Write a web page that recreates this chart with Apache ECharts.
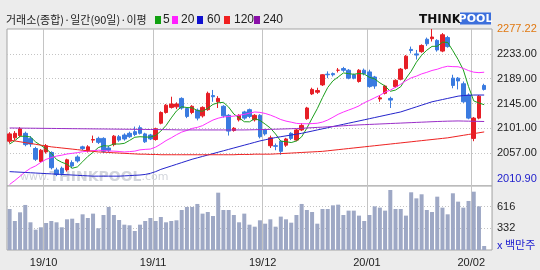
<!DOCTYPE html>
<html><head><meta charset="utf-8">
<script src="https://cdn.jsdelivr.net/npm/echarts@6/dist/echarts.min.js"></script>
<style>html,body{margin:0;padding:0;background:#ececec;}#c{width:540px;height:270px;}</style>
</head><body><div id="c"></div>
<script>
const dates = ['2019-09-20','2019-09-23','2019-09-24','2019-09-25','2019-09-26','2019-09-27','2019-09-30',
'2019-10-01','2019-10-02','2019-10-04','2019-10-07','2019-10-08','2019-10-10','2019-10-11','2019-10-14','2019-10-15','2019-10-16','2019-10-17','2019-10-18','2019-10-21','2019-10-22','2019-10-23','2019-10-24','2019-10-25','2019-10-28','2019-10-29','2019-10-30','2019-10-31',
'2019-11-01','2019-11-04','2019-11-05','2019-11-06','2019-11-07','2019-11-08','2019-11-11','2019-11-12','2019-11-13','2019-11-14','2019-11-15','2019-11-18','2019-11-19','2019-11-20','2019-11-21','2019-11-22','2019-11-25','2019-11-26','2019-11-27','2019-11-28','2019-11-29',
'2019-12-02','2019-12-03','2019-12-04','2019-12-05','2019-12-06','2019-12-09','2019-12-10','2019-12-11','2019-12-12','2019-12-13','2019-12-16','2019-12-17','2019-12-18','2019-12-19','2019-12-20','2019-12-23','2019-12-24','2019-12-26','2019-12-27','2019-12-30',
'2020-01-02','2020-01-03','2020-01-06','2020-01-07','2020-01-08','2020-01-09','2020-01-10','2020-01-13','2020-01-14','2020-01-15','2020-01-16','2020-01-17','2020-01-20','2020-01-21','2020-01-22','2020-01-23','2020-01-28','2020-01-29','2020-01-30','2020-01-31',
'2020-02-03','2020-02-04','2020-02-05'];

const open = [2078,2084,2088,2092,2083,2065,2042,2059,2058,2027,
 2030,2027,2040,2050,2068,2061,2080,2083,2083,2066,
 2072,2086,2089,2092,2095,2102,2091,2089,2081,2110,
 2129,2138,2139,2154,2136,2129,2133,2123,2134,2159,
 2148,2140,2124,2097,2116,2130,2134,2116,2124,2098,
 2070,2070,2078,2071,2092,2080,2098,2118,2162,2165,
 2178,2197,2198,2204,2207,2204,2196,2184,2204,2201,
 2192,2153,2163,2154,2175,2188,2207,2241,2233,2237,
 2259,2260,2257,2238,2262,2190,2190,2180,2160,2083,
 2119,2177];
const close = [2091,2092,2100,2072,2073,2046,2062,2070,2031,2019,
 2021,2045,2034,2043,2065,2068,2081,2076,2060,2062,
 2087,2080,2082,2086,2090,2092,2077,2082,2100,2129,
 2142,2144,2144,2137,2122,2140,2119,2138,2163,2157,
 2154,2123,2096,2101,2124,2119,2122,2124,2086,2091,
 2084,2069,2060,2082,2083,2098,2106,2137,2170,2168,
 2196,2196,2196,2204,2204,2190,2190,2204,2198,2175,
 2176,2155,2176,2151,2186,2206,2229,2239,2231,2248,
 2251,2263,2240,2267,2246,2177,2185,2148,2119,2119,
 2158,2170];
const low = [2074,2080,2085,2069,2068,2043,2040,2056,2028,2016,
 2017,2024,2030,2040,2062,2058,2075,2073,2057,2058,
 2069,2077,2079,2084,2087,2090,2075,2080,2079,2108,
 2127,2136,2135,2134,2119,2126,2115,2120,2132,2148,
 2137,2120,2088,2095,2113,2116,2119,2113,2083,2088,
 2066,2062,2054,2068,2080,2078,2096,2116,2160,2162,
 2176,2190,2193,2200,2201,2188,2188,2182,2195,2173,
 2171,2148,2161,2137,2173,2186,2205,2234,2223,2235,
 2247,2255,2237,2236,2244,2172,2170,2146,2117,2078,
 2117,2168];
const high = [2094,2096,2103,2095,2087,2068,2064,2073,2060,2031,
 2033,2047,2044,2053,2070,2071,2088,2086,2085,2070,
 2089,2089,2092,2095,2104,2106,2093,2091,2102,2131,
 2144,2157,2147,2156,2138,2142,2136,2140,2166,2169,
 2158,2142,2126,2103,2126,2132,2136,2126,2126,2100,
 2088,2074,2080,2084,2094,2100,2110,2139,2173,2173,
 2197,2202,2200,2208,2210,2206,2198,2206,2207,2205,
 2194,2160,2178,2157,2188,2208,2231,2246,2240,2250,
 2262,2277.22,2259,2270,2265,2196,2192,2184,2163,2121,
 2160,2180];
const volume = [583,427,540,636,410,314,345,401,427,410,
 345,449,457,401,514,466,523,332,505,610,
 505,440,379,371,297,379,427,466,427,479,
 410,427,436,570,610,610,649,523,544,492,
 796,570,570,505,410,523,379,353,436,392,
 449,353,484,449,405,505,649,570,544,392,
 583,583,631,640,505,562,562,497,427,505,
 618,601,562,831,583,583,497,801,722,775,
 570,544,744,601,514,788,679,601,688,809,
 618,101];
const ma5 = [2073,2079,2086.6,2087,2085.6,2076.6,2070.6,2064.6,2056.4,2045.6,
 2040.6,2037.2,2030,2032.4,2041.6,2051,2058.2,2066.6,2070,2069.4,
 2073.2,2073,2074.2,2079.4,2085,2086,2085.4,2085.4,2088.2,2096,
 2106,2119.4,2131.8,2139.2,2137.8,2137.4,2132.4,2131.2,2136.4,2143.4,
 2146.2,2147,2138.6,2126.2,2119.6,2112.6,2112.4,2118,2115,2108.4,
 2101.4,2090.8,2078,2077.2,2075.6,2078.4,2085.8,2101.2,2118.8,2135.8,
 2155.4,2173.4,2185.2,2192,2199.2,2198,2196.8,2198.4,2197.2,2191.4,
 2188.6,2181.6,2176,2166.6,2168.8,2174.8,2189.6,2202.2,2218.2,2230.6,
 2239.6,2246.4,2246.6,2253.8,2253.4,2238.6,2223,2204.6,2175,2149.6,
 2145.8,2142.8];
const ma20 = [2001.2,2008.2,2015.8,2023.6,2029.9,2034.2,2040.6,2045.8,2048.9,2051.6,
 2053.2,2055.3,2056.5,2057.7,2059.4,2060.3,2061.3,2062,2061.5,2060.6,
 2060.4,2059.8,2058.9,2059.6,2060.4,2062.7,2063.5,2064.1,2067.5,2073,
 2079.1,2084,2089.5,2094.2,2097.1,2100.7,2102.6,2105.7,2110.8,2115.6,
 2118.9,2121.1,2121.8,2122.5,2124.2,2125.6,2127.8,2129.9,2129.2,2127.3,
 2124.4,2120.7,2116.5,2113.7,2111.8,2109.7,2109,2109,2109.3,2109.9,
 2112,2115.6,2120.6,2125.8,2129.8,2133.3,2136.7,2140.7,2146.3,2150.5,
 2155.1,2159.4,2165.2,2168.7,2173.8,2179.2,2185.4,2190.5,2193.5,2197.5,
 2200.3,2203.6,2205.8,2209,2211.1,2210.4,2210.2,2207.4,2203.4,2200.6,
 2199.7,2200.5];
const ma60 = [2024,2023.5,2023,2022.5,2022,2021.5,2021,2020.5,2020,2019.5,
 2019,2018.5,2018,2017.5,2017,2016.5,2016,2016,2016,2016,
 2016,2016,2016.5,2017,2017.5,2018,2019,2021,2024,2028,
 2031,2034,2037,2040,2043,2046,2048.5,2051,2053.5,2056,
 2058.5,2061,2063.5,2066,2068.5,2071,2073.5,2076,2078.5,2080.5,
 2082.5,2084.5,2086,2087.5,2089,2090.5,2092,2094,2096,2098,
 2100,2102,2104,2106,2108,2110,2112,2114,2116,2118,
 2120,2122,2124,2126,2128,2130,2133,2136,2139,2142,
 2145,2148,2150,2152,2154,2156,2158,2159,2159.5,2160,
 2160,2160];
const ma120 = [2080,2078.5,2077,2075.5,2074,2072.5,2071,2069.5,2068,2067,
 2066,2065,2064,2063,2062,2061,2060,2059,2058.5,2058,
 2057.5,2057,2056.5,2056,2055.5,2055,2055,2054.5,2054.5,2054,
 2054,2054,2054,2054,2054,2054,2054,2054,2054,2054,
 2054,2054,2054,2054,2054.5,2054.5,2054.5,2055,2055,2055,
 2055,2055.5,2056,2056.5,2057,2057.5,2058,2058.5,2059,2059.5,
 2060,2061,2062,2063,2064,2065,2066,2067,2068,2069,
 2070,2071,2072,2073,2074,2075,2076,2077,2078,2079,
 2080,2081,2082,2083,2084,2085.5,2087,2088.5,2090,2091.5,
 2093,2094.5];
const ma240 = [2101.5,2101.4,2101.3,2101.2,2101.1,2101,2100.9,2100.8,2100.7,2100.6,
 2100.5,2100.4,2100.3,2100.2,2100.1,2100,2099.9,2099.8,2099.7,2099.6,
 2099.5,2099.4,2099.3,2099.2,2099.1,2099,2098.9,2098.8,2098.7,2098.6,
 2098.5,2098.4,2098.2,2098,2098,2098,2098,2098,2098,2098,
 2098,2098,2098,2098,2098,2098,2098.2,2098.4,2098.6,2098.8,
 2099,2099.3,2099.6,2099.9,2100.2,2100.5,2101,2101.5,2102,2102.5,
 2103,2103.6,2104.2,2104.8,2105.4,2106,2106.5,2107,2107.4,2107.8,
 2108.2,2108.6,2109,2109.4,2109.8,2110.2,2110.6,2111,2111.4,2111.8,
 2112.2,2112.6,2113,2113.3,2113.6,2113.8,2114,2113.8,2113.6,2113.4,
 2113.2,2113];

const priceTicks = [2010.90, 2057, 2101, 2145, 2189, 2233, 2277.22];
const priceGridValues = [2057, 2101, 2145, 2189, 2233];
const volTicks = [332, 616];
const monthLabels = ['19/10','19/11','19/12','20/01','20/02'];
const maNames = ['5','20','60','120','240'];
const maColors = ['#1d9f1d','#ff30ff','#2424cc','#ee2222','#9a2ec8'];
const maLegendColors = ['#10a010','#ff20ff','#1010d0','#f02020','#8a10a8'];

const monthIdx = [];
for (let i = 1; i < dates.length; i++) {
  if (dates[i].slice(0,7) !== dates[i-1].slice(0,7)) monthIdx.push(i);
}
const labelOf = {};
monthIdx.forEach((idx,k) => { labelOf[idx] = monthLabels[k]; });

const UP = '#e61e26', DOWN = '#3a7be0';
const candleData = dates.map((d,i) => [open[i], close[i], low[i], high[i]]);
const FONT = 'Liberation Sans';

const chart = echarts.init(document.getElementById('c'), null, {renderer:'canvas'});
const gridLine = {color:'#c4c4c4', width:1};
const dotLine = {color:'#c4c4c4', width:1, type:[1,2]};

const legendX = [155,172,197,224,254];
const legendTX = [163,181,207,234,263];
const graphics = [
  {type:'text', x:6, y:19.5, z:10, style:{text:'거래소(종합)·일간(90일)·이평', font:'11px "Noto Sans CJK KR"', fill:'#222', verticalAlign:'middle'}},
  {type:'text', x:419, y:19.5, z:10, style:{text:'THINK', font:'bold 12px "DejaVu Sans"', fill:'#111', verticalAlign:'middle'}},
  {type:'rect', shape:{x:460, y:12.5, width:31, height:12}, z:10, style:{fill:'#3c6fdc'}},
  {type:'text', x:475.5, y:19, z:11, style:{text:'POOL', font:'bold 11px "DejaVu Sans"', fill:'#fff', align:'center', verticalAlign:'middle'}},
  {type:'text', x:20, y:177, z:1, style:{text:'{s|www.}{b|THINKPOOL}{s|.com}', rich:{s:{font:'11px "DejaVu Sans"', fill:'#d2d5dc'}, b:{font:'bold 14px "DejaVu Sans"', fill:'#d2d5dc'}}, verticalAlign:'middle'}},
  {type:'text', x:497, y:245, z:10, style:{text:'x 백만주', font:'11px "Noto Sans CJK KR"', fill:'#2020d0', verticalAlign:'middle'}}
];
maNames.forEach((n,k) => {
  graphics.push({type:'rect', shape:{x:legendX[k], y:16, width:6, height:8}, z:10, style:{fill:maLegendColors[k]}});
  graphics.push({type:'text', x:legendTX[k], y:20, z:10, style:{text:n, font:'12px "Liberation Sans"', fill:'#222', verticalAlign:'middle'}});
});

const maSeries = [ma5, ma20, ma60, ma120, ma240].map((arr,k) => ({
  name: maNames[k], type:'line', xAxisIndex:0, yAxisIndex:0, data:arr,
  showSymbol:false, symbol:'none', silent:true, z:3,
  lineStyle:{color:maColors[k], width:1}
}));

chart.setOption({
  animation:false,
  backgroundColor:'#ececec',
  graphic: graphics,
  grid:[
    {left:7, top:29, width:485, height:157, show:true, borderColor:'#a4a4a4', borderWidth:1, backgroundColor:'#ffffff', z:0},
    {left:7, top:186, width:485, height:64, show:true, borderColor:'#a4a4a4', borderWidth:1, backgroundColor:'#ffffff', z:0}
  ],
  xAxis:[
    {type:'category', gridIndex:0, data:dates, max:dates.length, boundaryGap:true,
     axisLine:{show:false}, axisTick:{show:false}, axisLabel:{show:false},
     splitLine:{show:true, interval:(i) => monthIdx.includes(i), lineStyle:gridLine}},
    {type:'category', gridIndex:1, data:dates, max:dates.length, boundaryGap:true,
     axisLine:{show:false}, axisTick:{show:false},
     axisLabel:{show:true, interval:(i) => monthIdx.includes(i), margin:7,
       formatter:(v,i) => '{m|' + (labelOf[i] || '') + '}',
       rich:{m:{padding:[0,5,0,0], fontSize:11, fontFamily:FONT, color:'#222'}}},
     splitLine:{show:true, interval:(i) => monthIdx.includes(i), lineStyle:gridLine}}
  ],
  yAxis:[
    {type:'value', gridIndex:0, position:'right', min:1998.5, max:2277.22,
     axisLine:{show:false}, axisTick:{show:false, customValues:priceGridValues},
     axisLabel:{customValues:priceTicks, margin:5, fontSize:11, fontFamily:FONT,
       formatter:(v) => Number(v).toFixed(2),
       color:(v) => { const n = parseFloat(v); return n > 2270 ? '#e07810' : (n < 2020 ? '#2222cc' : '#222'); }},
     splitLine:{show:true, lineStyle:dotLine}},
    {type:'value', gridIndex:1, position:'right', min:49, max:883,
     axisLine:{show:false}, axisTick:{show:false, customValues:volTicks},
     axisLabel:{customValues:volTicks, margin:5, fontSize:11, fontFamily:FONT, color:'#222'},
     splitLine:{show:true, lineStyle:dotLine}}
  ],
  series:[
    {type:'candlestick', xAxisIndex:0, yAxisIndex:0, data:candleData, barWidth:4, z:2, silent:true,
     itemStyle:{color:UP, color0:DOWN, borderColor:UP, borderColor0:DOWN, borderWidth:1}},
    ...maSeries,
    {type:'bar', xAxisIndex:1, yAxisIndex:1, data:volume, barWidth:4, silent:true,
     itemStyle:{color:'#9ea8c5'}}
  ]
});
</script></body></html>
